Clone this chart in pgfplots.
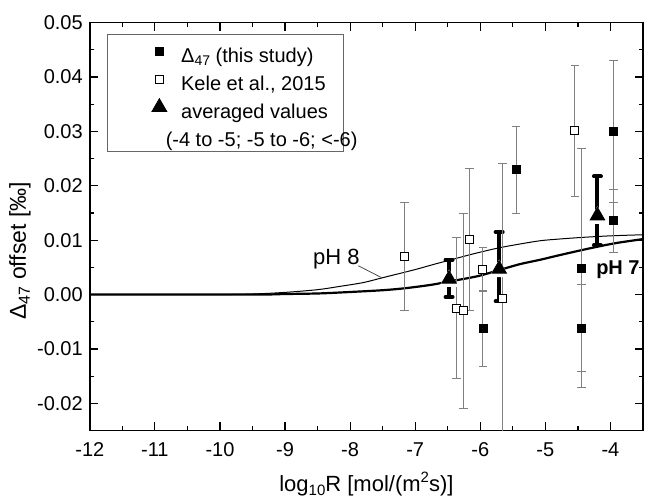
\documentclass[border=0pt]{standalone}
\usepackage{fontspec}
\setmainfont{Liberation Sans}
\usepackage{pgfplots}
\pgfplotsset{compat=1.18}
\usepackage{pgfplotstable}

\newcommand{\lsub}[2]{\raisebox{-0.32ex}{\fontsize{#1}{#1}\selectfont #2}}
\newcommand{\lsup}[2]{\raisebox{0.75ex}{\fontsize{#1}{#1}\selectfont #2}}

\pgfplotstableread{
x y e
-5.96 -0.0063 0.0070
-5.45 0.0230 0.0080
-4.45 0.0049 0.0220
-4.45 -0.0062 0.0080
-3.95 0.0300 0.0131
-3.95 0.0136 0.0058
}\thisstudy

\pgfplotstableread{
x y e
-7.17 0.0070 0.0100
-6.37 -0.0025 0.0130
-6.26 -0.0030 0.0180
-6.17 0.0101 0.0130
-5.96 0.0046 0.0040
-5.655 -0.0007 0.0248
-4.545 0.0301 0.0120
}\kele

\pgfplotstableread{
x y ep em
-6.48 0.00287 0.00356 0.00331
-5.71 0.0047 0.0068 0.00593
-4.20 0.0145 0.00725 0.00544
}\avg

\pgfplotstableread{
x y
-12 0
-10 0.0000
-9.5 0.0001
-9 0.0004
-8.5 0.0009
-8.16 0.0015
-7.8 0.0022
-7.5 0.0031
-7.0 0.0046
-6.7 0.0056
-6.48 0.0063
-6.2 0.0072
-6.0 0.0078
-5.71 0.0086
-5.39 0.0093
-5.08 0.0099
-4.8 0.0102
-4.45 0.0105
-4.0 0.0108
-3.5 0.0110
}\phEight

\pgfplotstableread{
x y
-12 0
-9.5 0.0000
-9 0.0001
-8.5 0.0002
-8.12 0.0004
-7.5 0.0008
-7.13 0.0012
-6.75 0.0018
-6.48 0.0024
-6.2 0.0030
-6.0 0.0035
-5.71 0.0045
-5.39 0.0056
-5.08 0.0064
-4.8 0.0072
-4.47 0.0081
-4.2 0.0088
-3.9 0.0095
-3.5 0.0102
}\phSeven

\newcommand{\rs}{\hspace*{-31pt}}

\begin{document}
\begin{tikzpicture}
\useasboundingbox (-44.9pt,-32.75pt) rectangle (278.6pt,215.25pt);
\begin{axis}[
  scale only axis, width=276.6pt, height=203.9pt,
  xmin=-12, xmax=-3.5, ymin=-0.025, ymax=0.05,
  scaled y ticks=false, scaled x ticks=false,
  xtick={-12,-11,-10,-9,-8,-7,-6,-5,-4},
  xticklabels={-12,-11,-10,-9,-8,-7,-6,-5,-4},
  ytick={-0.02,-0.01,0,0.01,0.02,0.03,0.04,0.05},
  yticklabels={-0.02,-0.01,0.00,0.01,0.02,0.03,0.04,0.05},
  minor x tick num=1, minor y tick num=1,
  tick align=inside,
  major tick length=4pt, minor tick length=2pt,
  every tick/.style={black, line width=0.6pt},
  axis line style={line width=0.8pt, black},
  tick label style={font=\fontsize{10}{12}\selectfont},
  xticklabel style={anchor=center, yshift=-9.75pt},
  xlabel={log\lsub{7.5}{10}R [mol/(m\lsup{7.5}{2}s)]},
  ylabel={Δ\lsub{8}{47} offset [‰]},
  xlabel style={font=\fontsize{11}{13}\selectfont, at={(axis description cs:0.5,0)}, anchor=center, yshift=-26.75pt},
  ylabel style={font=\fontsize{11.5}{13}\selectfont, at={(axis description cs:-0.1262,0.441)}, anchor=center},
  legend image code/.code={\draw[#1] plot coordinates {(0pt,0pt)};},
  legend style={at={(axis description cs:0.03055,0.97155)}, anchor=north west,
    draw=black!60, line width=0.5pt, inner xsep=22.45pt, inner ysep=1pt,
    font=\fontsize{10}{12}\selectfont, row sep=-0.2pt, column sep=5.5pt,
    nodes={inner xsep=1.75pt, inner ysep=1.625pt, text height=11pt, text depth=0pt}},
  legend cell align=left,
]
% model curves
\addplot[forget plot, black, line width=0.5pt, smooth] table[x=x,y=y] {\phEight};
\addplot[forget plot, black, line width=1.1pt, smooth] table[x=x,y=y] {\phSeven};

% averaged values: thick error bars, white halo, black triangles
\addplot[forget plot, only marks, mark=none,
  error bars/.cd, y dir=both, y explicit,
  error bar style={line width=2pt, black},
  error mark options={rotate=90, mark size=1.75pt, line width=2pt, line cap=round, black}]
  table[x=x, y=y, y error plus=ep, y error minus=em] {\avg};
\addplot[forget plot, only marks, mark=triangle*, mark size=5.43pt,
  mark options={white, yshift=-1.1pt}] table[x=x, y=y] {\avg};
\addplot[forget plot, only marks, mark=triangle*, mark size=4.2pt,
  mark options={black}] table[x=x, y=y] {\avg};

% Kele et al. 2015
\addplot[forget plot, only marks, mark=square*, mark size=2pt,
  mark options={fill=white, draw=black, line width=0.5pt},
  error bars/.cd, y dir=both, y explicit,
  error bar style={line width=0.5pt, black!50},
  error mark options={rotate=90, mark size=2.2pt, line width=0.5pt, black!50}]
  table[x=x, y=y, y error=e] {\kele};

% this study
\addplot[forget plot, only marks, mark=square*, mark size=2pt,
  mark options={black},
  error bars/.cd, y dir=both, y explicit,
  error bar style={line width=0.5pt, black!50},
  error mark options={rotate=90, mark size=2.2pt, line width=0.5pt, black!50}]
  table[x=x, y=y, y error=e] {\thisstudy};

\node[font=\fontsize{11}{13}\selectfont] at (axis cs:-8.21,0.0065) {pH 8};
\draw[line width=0.4pt, black!70] (axis cs:-7.875,0.0053) -- (axis cs:-7.515,0.0031);
\node[font=\bfseries\fontsize{10}{12}\selectfont] at (axis cs:-3.885,0.00465) {pH 7};

\addlegendimage{mark=square*, mark size=2pt, black}
\addlegendentry{Δ\lsub{7}{47} (this study)\rs}
\addlegendimage{mark=square*, mark size=2pt, mark options={fill=white, draw=black, line width=0.5pt}}
\addlegendentry{Kele et al., 2015\rs}
\addlegendimage{mark=triangle*, mark size=4.2pt, black}
\addlegendentry{averaged values\rs}
\addlegendimage{empty legend}
\addlegendentry{\hspace*{-7.7pt}(-4 to -5; -5 to -6; <-6)\rs}
\end{axis}
\end{tikzpicture}
\end{document}
